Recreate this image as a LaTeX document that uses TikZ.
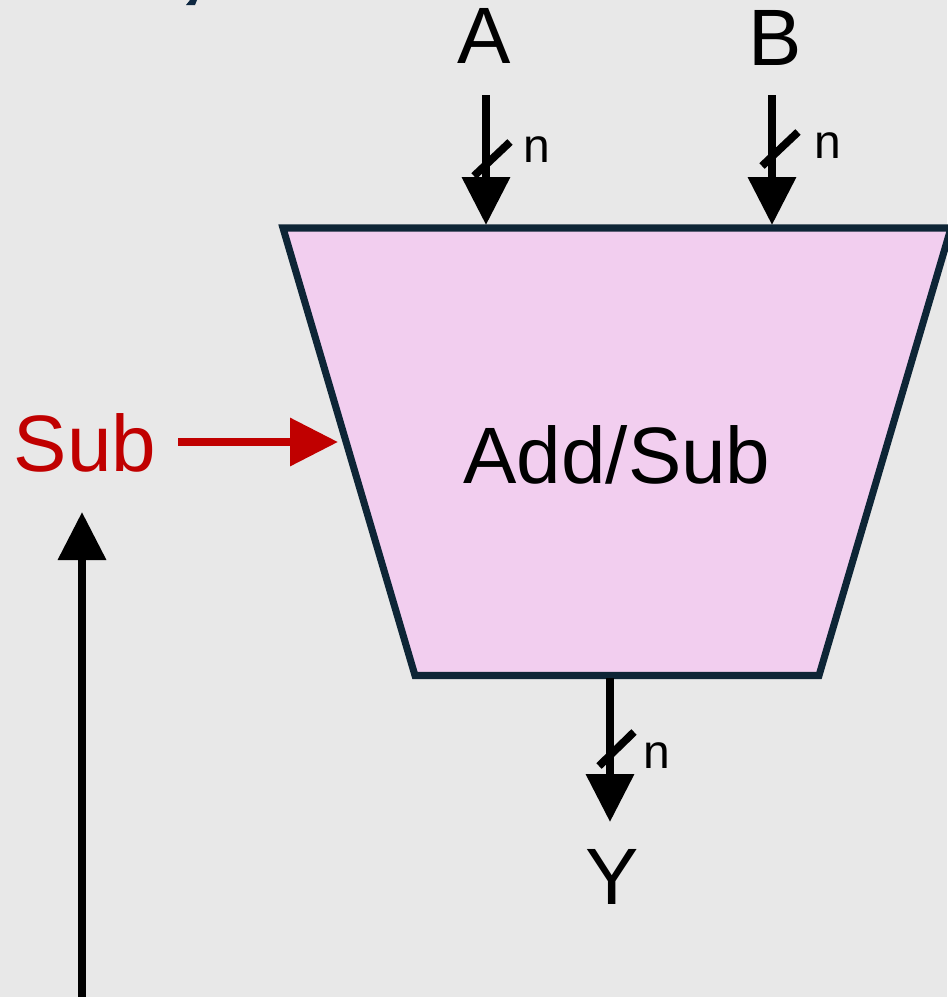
\documentclass[tikz,border=0pt]{standalone}
\usepackage{fontspec}
\setmainfont{Liberation Sans}
\usetikzlibrary{arrows.meta}
\definecolor{bg}{HTML}{E8E8E8}
\definecolor{boxfill}{HTML}{F2CEEF}
\definecolor{boxline}{HTML}{0E2536}
\definecolor{subred}{HTML}{C00000}
\definecolor{navy}{HTML}{0E2841}
\begin{document}
\begin{tikzpicture}[x=0.75pt,y=-0.75pt,
  bigtext/.style={font=\fontsize{60}{70}\selectfont, inner sep=0pt, anchor=base},
  ntext/.style={font=\fontsize{36}{42}\selectfont, inner sep=0pt, anchor=base},
  sig/.style={line width=6pt, -{Triangle[width=35pt,length=36pt]}},
  redsig/.style={line width=5.8pt, subred, -{Triangle[width=35pt,length=36pt]}},
  slash/.style={line width=5.8pt},
  block/.style={line width=5.3pt, draw=boxline, fill=boxfill, line join=miter}]
\useasboundingbox (0,0) rectangle (947,997);
\fill[bg] (0,0) rectangle (947,997);
% cut-off fragment at top
\fill[navy] (186,5) -- (195,5) -- (197,0) -- (190,0) -- cycle;
% block
\coordinate (tl) at (283,228);
\coordinate (tr) at (951,228);
\coordinate (br) at (819,675.5);
\coordinate (bl) at (415,675.5);
\draw[block] (tl) -- (tr) -- (br) -- (bl) -- cycle;
\node[bigtext] (addsub) at (617,483) {Add/Sub};
% labels
\node[bigtext] (A) at (484.5,63) {A};
\node[bigtext] (B) at (775,65) {B};
\node[bigtext] (Y) at (612,904) {Y};
\node[bigtext, subred] (Sub) at (85,471) {Sub};
\node[ntext] (nA) at (537,162) {n};
\node[ntext] (nB) at (828,158) {n};
\node[ntext] (nY) at (657,768) {n};
% connector endpoints
\coordinate (a0) at (486,95);
\coordinate (a1) at (486,225);
\coordinate (b0) at (772,95);
\coordinate (b1) at (772,225);
\coordinate (y0) at (610,678);
\coordinate (y1) at (610,822);
\coordinate (s0) at (178,442);
\coordinate (s1) at (338,442);
\coordinate (u0) at (82,997);
\coordinate (u1) at (82,512);
\draw[sig] (a0) -- (a1);
\draw[sig] (b0) -- (b1);
\draw[sig] (y0) -- (y1);
\draw[redsig] (s0) -- (s1);
\draw[sig] (u0) -- (u1);
% bus slashes
\coordinate (sa0) at (474,176); \coordinate (sa1) at (510,142);
\coordinate (sb0) at (762,166); \coordinate (sb1) at (798,132);
\coordinate (sy0) at (599,766); \coordinate (sy1) at (634,732);
\draw[slash] (sa0) -- (sa1);
\draw[slash] (sb0) -- (sb1);
\draw[slash] (sy0) -- (sy1);
\end{tikzpicture}
\end{document}
